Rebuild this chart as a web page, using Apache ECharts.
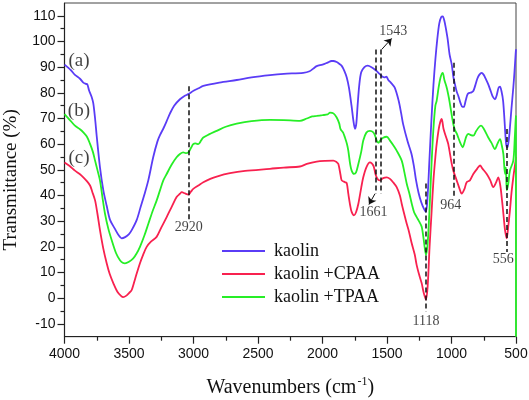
<!DOCTYPE html>
<html><head><meta charset="utf-8">
<script src="https://cdn.jsdelivr.net/npm/echarts@6/dist/echarts.min.js"></script>
<style>html,body{margin:0;padding:0;background:#fff}#c{width:529px;height:400px}</style>
</head><body><div id="c"></div>
<script>
// ---- data (wavenumber cm^-1, transmittance %) ----
const kaolinX = [4000,3950,3919,3880,3854,3835,3823,3810,3802,3790,3777,3763,3750,3725,3699,3673,3647,3609,3580,3557,3530,3500,3479,3440,3410,3380,3350,3312,3280,3260,3230,3208,3182,3150,3105,3070,3040,3000,2960,2924,2800,2665,2550,2407,2300,2149,2100,2070,2045,2000,1960,1930,1916,1890,1870,1851,1830,1812,1795,1775,1760,1748,1738,1728,1715,1700,1675,1650,1620,1585,1560,1540,1520,1505,1490,1470,1440,1410,1390,1375,1340,1310,1290,1275,1255,1235,1215,1198,1185,1170,1155,1140,1125,1110,1095,1080,1068,1055,1045,1030,1015,998,985,973,960,947,930,915,905,890,875,860,845,831,815,800,785,766,750,735,715,695,680,663,650,635,624,612,600,590,580,572,565,555,547,535,521,512,503,500];
const kaolinY = [91,88.8,87,85.5,84,83.5,83.3,81,80,78.5,76,70,63,51,42,36,30.5,27,24.5,23.3,23.8,25,26.5,30.5,35.5,40.5,46,55,61,63.5,66.5,69,72,75,77.5,78.8,79.5,80.8,81.8,82.7,84,85,86,86.9,87.4,87.8,88.4,89.5,90.4,91,91.8,92.4,92.4,92,91.3,90.5,88.5,86,82,75,69,66,68,75,83,88,90,90.6,90,88.7,87.5,86.5,86,86.3,85,84,82,77,72,67.8,61,56.2,51,46,41,37.5,35,33.6,40,55,70,83,93,101,107,109.5,109.8,108,105.5,101,95,91,86,83.3,80.5,78.8,76,74.5,74.5,77,79.5,80,80.2,80.7,83,85.5,87,87.8,87,85.5,83.3,80.5,78.5,77.5,79,82,82.4,80.5,76.9,70,62,58.8,59,62,66.5,74,82,88,95,97];

const cpaaX = [4000,3960,3919,3880,3854,3825,3802,3785,3763,3745,3725,3700,3673,3650,3621,3590,3560,3545,3520,3500,3479,3450,3415,3390,3363,3330,3286,3250,3208,3170,3131,3105,3091,3065,3040,3020,3002,2963,2924,2870,2820,2717,2600,2407,2300,2175,2122,2045,1980,1916,1890,1877,1860,1851,1826,1812,1800,1785,1774,1756,1740,1722,1700,1684,1660,1632,1606,1590,1580,1565,1554,1530,1502,1477,1450,1425,1400,1386,1365,1347,1330,1308,1285,1270,1250,1231,1215,1198,1185,1170,1155,1140,1125,1115,1095,1076,1062,1050,1037,1025,998,986,960,940,921,900,882,857,831,800,779,760,727,700,676,655,637,622,611,598,585,572,560,547,535,521,503,500];
const cpaaY = [52.9,51.5,49.7,48.3,47.1,45.5,43.9,41.5,38.1,33,26.5,19.5,13.6,9.5,5.8,2.5,0.8,0.4,1,2,3.2,8,13.6,17,20,22,23.9,27.5,31.6,35.5,39.4,40.7,41.3,40.8,40.4,41.5,42.6,43.9,45.2,46.5,47.4,48.7,49.6,50.4,50.9,51.3,52.3,53.2,53.5,53.6,53,52.3,48,45.9,45.2,44.8,40.7,36,33.6,32.3,33.5,36.8,43,47.1,51,52.9,51.7,48.5,47.1,46,45.9,46.8,47.1,46.5,45,43.3,40,36.8,32.5,29,26,21.3,17,12.9,9,5.8,2,-0.5,4.5,20,33,45.9,55,60,67,69.8,66,64,62,60,52.3,49.7,45.9,43,40.7,42.5,45.2,45.9,48.4,50.5,51.7,50.5,48.4,46,43.3,45,47.1,44,39.4,33,26.5,23.3,28,34.2,41,47.1,53.6,55];

const tpaaX = [4000,3960,3919,3880,3854,3825,3802,3780,3763,3745,3725,3705,3686,3660,3634,3600,3570,3545,3531,3500,3467,3440,3415,3380,3350,3320,3286,3260,3234,3208,3170,3131,3105,3080,3060,3040,3020,3002,2985,2963,2940,2924,2880,2820,2750,2665,2550,2407,2300,2175,2122,2080,2045,2000,1960,1942,1915,1890,1870,1860,1840,1826,1810,1800,1785,1774,1756,1740,1722,1700,1684,1660,1632,1606,1590,1580,1565,1554,1530,1502,1477,1450,1425,1386,1365,1347,1325,1308,1290,1270,1250,1231,1215,1198,1185,1170,1155,1140,1125,1115,1100,1085,1068,1055,1037,1020,1012,986,973,958,947,932,913,900,885,870,850,831,810,790,771,750,715,690,663,645,624,610,598,585,578,572,560,547,521,510,501,500];
const tpaaY = [71.7,69.5,67.2,65.8,64.6,62.8,60.1,57,53.6,50,45.9,39,32.9,27,22.6,17.5,14.8,13.7,13.6,14.2,15.5,17.5,20,24.5,29,33.5,38,42,45.9,48.4,52,54.9,56.2,56.8,56.5,56.8,58.5,60,60.3,60,61.5,62.6,63.8,65.2,66.8,68,69,69.5,69.4,69.1,70,70.8,71,71.3,71.6,72.3,72,70.4,68,65.9,64.5,62.6,60,57.5,52,49.7,48.4,49,52.3,57,61.4,64.5,65.2,64.6,63,61.4,60.5,61.4,62.5,62.9,61.4,59.5,57.5,53.6,49,44.6,40.5,36.8,33.5,31.6,29.8,27.8,22.6,16.8,21.3,35,52,66,75,76.9,82,86,87.8,85,82,78,75.6,67.8,65.5,64,62.5,60.5,58.8,60.5,63,64,63.5,63.3,65,66.5,67.2,66,62.6,60.5,58.1,60,62,59.5,56.2,48.4,51,42,44.5,49.7,53.6,62,71,-15];

const seriesNames = ['kaolin', 'kaolin +CPAA', 'kaolin +TPAA'];
const seriesColors = ['#5a3cf6', '#f8214f', '#26ee26'];

// axis ticks
const yLabelValues = [-10,0,10,20,30,40,50,60,70,80,90,100,110];
const yMinorValues = [-5,5,15,25,35,45,55,65,75,85,95,105];

// annotations: [text, wavenumber, value]
const annoText = ['(a)','(b)','(c)','2920','1543','1661','964','1118','556'];
const annoX = [3888,3888,3888,3037,1451,1605,1006,1198,598];
const annoY = [92.4,73,54.8,27.7,104,33.5,36.2,-9.1,15.2];
// dashed marker lines: wavenumber, top value, bottom value
const markX = [3037,1585,1546,1198,986,572];
const markTop = [82.6,96.9,96.9,44.7,91.7,65.9];
const markBottom = [30.7,40.7,40.7,-5.3,39.4,18];

function pairs(xs, ys){ return xs.map((x,i)=>[x, ys[i]]); }

const chart = echarts.init(document.getElementById('c'), null, {renderer:'canvas'});
const serif = 'Liberation Serif, Times New Roman, serif';
const sans = 'Liberation Sans, Arial, sans-serif';

const lineData = [pairs(kaolinX,kaolinY), pairs(cpaaX,cpaaY), pairs(tpaaX,tpaaY)];
const lineSeries = seriesNames.map((n,i)=>({
  name:n, type:'line', data:lineData[i], symbol:'none', showSymbol:false, smooth:0.3,
  lineStyle:{color:seriesColors[i], width:1.8}, itemStyle:{color:seriesColors[i]},
  clip:true
}));

const dashLines = markX.map((x,i)=>[{coord:[x,markTop[i]]},{coord:[x,markBottom[i]]}]);

const option = {
  animation:false,
  backgroundColor:'#fff',
  grid:{left:64.5, right:13, top:3, bottom:63.3, show:true, borderColor:'#444', borderWidth:1,
        containLabel:false, outerBoundsMode:'none'},
  legend:{
    data:seriesNames, orient:'vertical', left:222, top:241, padding:0,
    icon:'rect', itemWidth:43, itemHeight:2, itemGap:3,
    textStyle:{fontFamily:serif, fontSize:18, color:'#111', lineHeight:20, padding:[0,0,0,4]}
  },
  xAxis:{
    type:'value', min:500, max:4000, interval:500, inverse:true,
    name:'Wavenumbers (cm{sup|-1}{n|)}', nameLocation:'middle', nameGap:39,
    nameTextStyle:{fontFamily:serif, fontSize:20, color:'#111', lineHeight:24,
      rich:{sup:{fontFamily:serif, fontSize:12, color:'#111', verticalAlign:'top', lineHeight:14, padding:[0,0,8,1]},
            n:{fontFamily:serif, fontSize:20, color:'#111', lineHeight:24}}},
    axisLine:{show:true, onZero:false, lineStyle:{color:'#222', width:1.2}},
    axisTick:{show:true, inside:false, length:7, lineStyle:{color:'#222', width:1.2}},
    minorTick:{show:true, splitNumber:2, length:4, lineStyle:{color:'#222', width:1.2}},
    axisLabel:{fontFamily:sans, fontSize:14, color:'#111', margin:10, formatter:v=>String(v)},
    splitLine:{show:false}, minorSplitLine:{show:false}
  },
  yAxis:[{
    type:'value', min:-15, max:115,
    name:'Transmittance (%){s|}', nameLocation:'middle', nameGap:44,
    nameTextStyle:{fontFamily:serif, fontSize:19, color:'#111',
      rich:{s:{width:20, fontSize:19}}},
    axisLine:{show:true, onZero:false, lineStyle:{color:'#222', width:1.2}},
    axisTick:{show:true, length:7, customValues:yLabelValues, lineStyle:{color:'#222', width:1.2}},
    axisLabel:{fontFamily:sans, fontSize:14, color:'#111', margin:9, customValues:yLabelValues},
    splitLine:{show:false}
  },{
    type:'value', min:-15, max:115, position:'left',
    axisLine:{show:false, onZero:false},
    axisTick:{show:true, length:4, customValues:yMinorValues, lineStyle:{color:'#222', width:1.2}},
    axisLabel:{show:false}, splitLine:{show:false}
  }],
  series:[...lineSeries, {
    name:'annotations', type:'scatter', symbolSize:0, z:10,
    data: annoText.map((t,i)=>({value:[annoX[i], annoY[i]], name:t,
      label:{fontSize: i<3 ? 19 : 14}})),
    label:{show:true, position:'inside', formatter:p=>p.name, fontFamily:serif, color:'#111'},
    markLine:{
      silent:true, symbol:['none','none'], animation:false, z:9,
      lineStyle:{color:'#111', type:[5,3], width:1.5},
      label:{show:false},
      data: dashLines.concat([
        [{coord:[1541,96.9], symbol:'none'},{coord:[1464,101.2], symbol:'arrow', symbolSize:7, lineStyle:{type:'solid', width:1}}],
        [{coord:[1593,40.7], symbol:'none'},{coord:[1640,36.5], symbol:'arrow', symbolSize:7, lineStyle:{type:'solid', width:1}}]
      ])
    }
  }]
};
chart.setOption(option);
</script></body></html>
